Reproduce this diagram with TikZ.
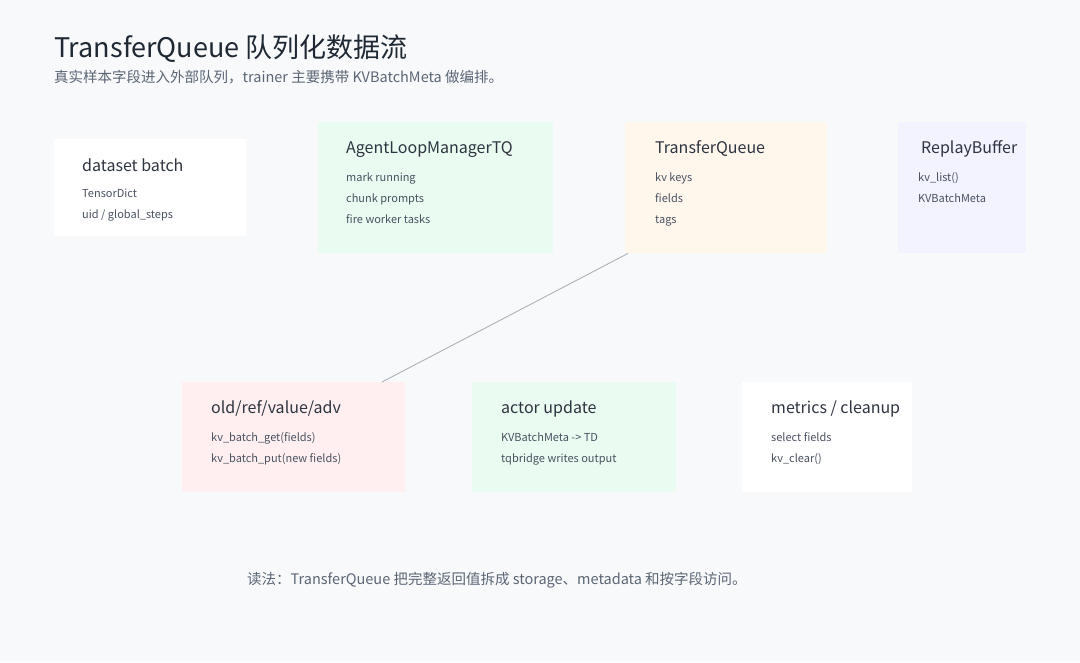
\documentclass[tikz,border=0pt]{standalone}
\usepackage{fontspec}
\setmainfont{Noto Sans CJK SC}
\usetikzlibrary{calc}
\definecolor{bg}{HTML}{F8F9FB}
\definecolor{ink}{HTML}{1F2933}
\definecolor{sub}{HTML}{5B6675}
\definecolor{boxttl}{HTML}{2E3440}
\definecolor{boxitm}{HTML}{4A5260}
\definecolor{mint}{HTML}{EAFBF1}
\definecolor{peach}{HTML}{FFF6EC}
\definecolor{lilac}{HTML}{F3F2FF}
\definecolor{rose}{HTML}{FFEFF0}
\definecolor{wire}{HTML}{AEB2B8}

\begin{document}
\begin{tikzpicture}[x=1pt, y=-1pt,
  card/.style={anchor=north west, inner sep=0pt, draw=none},
  ttl/.style={anchor=base west, inner sep=0pt, text=boxttl, font=\fontsize{16}{20}\selectfont},
  itm/.style={anchor=base west, inner sep=0pt, text=boxitm, font=\fontsize{11}{13}\selectfont},
  link/.style={draw=wire, line width=0.9pt}]
  \fill[bg] (0,0) rectangle (1080,662);
  \useasboundingbox (0,0) rectangle (1080,662);

  % heading
  \node[anchor=base west, inner sep=0pt, text=ink, font=\fontsize{27}{32}\selectfont] (title) at (54,57) {TransferQueue 队列化数据流};
  \node[anchor=base west, inner sep=0pt, text=sub, font=\fontsize{14.5}{18}\selectfont] (subtitle) at (54,82) {真实样本字段进入外部队列，trainer 主要携带 KVBatchMeta 做编排。};

  % upper row
  \node[card, fill=white, minimum width=192pt, minimum height=97pt] (ds) at (54,139) {};
  \node[card, fill=mint, minimum width=235pt, minimum height=131pt] (alm) at (318,122) {};
  \node[card, fill=peach, minimum width=202pt, minimum height=131pt] (tq) at (625,122) {};
  \node[card, fill=lilac, minimum width=128pt, minimum height=131pt] (rb) at (898,122) {};

  % lower row
  \node[card, fill=rose, minimum width=223pt, minimum height=110pt] (old) at (182,382) {};
  \node[card, fill=mint, minimum width=204pt, minimum height=110pt] (act) at (472,382) {};
  \node[card, fill=white, minimum width=170pt, minimum height=110pt] (met) at (742,382) {};

  % card texts
  \node[ttl] (dsT) at ([shift={(28,32)}]ds.north west) {dataset batch};
  \node[itm] (ds1) at ([shift={(28,58)}]ds.north west) {TensorDict};
  \node[itm] (ds2) at ([shift={(28,79)}]ds.north west) {uid / global\_steps};

  \node[ttl] (almT) at ([shift={(28,31)}]alm.north west) {AgentLoopManagerTQ};
  \node[itm] (alm1) at ([shift={(28,59)}]alm.north west) {mark running};
  \node[itm] (alm2) at ([shift={(28,80)}]alm.north west) {chunk prompts};
  \node[itm] (alm3) at ([shift={(28,101)}]alm.north west) {fire worker tasks};

  \node[ttl] (tqT) at ([shift={(30,31)}]tq.north west) {TransferQueue};
  \node[itm] (tq1) at ([shift={(30,59)}]tq.north west) {kv keys};
  \node[itm] (tq2) at ([shift={(30,80)}]tq.north west) {fields};
  \node[itm] (tq3) at ([shift={(30,101)}]tq.north west) {tags};

  \node[ttl] (rbT) at ([shift={(23,31)}]rb.north west) {ReplayBuffer};
  \node[itm] (rb1) at ([shift={(20,59)}]rb.north west) {kv\_list()};
  \node[itm] (rb2) at ([shift={(20,80)}]rb.north west) {KVBatchMeta};

  \node[ttl] (oldT) at ([shift={(29,31)}]old.north west) {old/ref/value/adv};
  \node[itm] (old1) at ([shift={(29,59)}]old.north west) {kv\_batch\_get(fields)};
  \node[itm] (old2) at ([shift={(29,80)}]old.north west) {kv\_batch\_put(new fields)};

  \node[ttl] (actT) at ([shift={(29,31)}]act.north west) {actor update};
  \node[itm] (act1) at ([shift={(29,59)}]act.north west) {KVBatchMeta -{}> TD};
  \node[itm] (act2) at ([shift={(29,80)}]act.north west) {tqbridge writes output};

  \node[ttl] (metT) at ([shift={(29,31)}]met.north west) {metrics / cleanup};
  \node[itm] (met1) at ([shift={(29,59)}]met.north west) {select fields};
  \node[itm] (met2) at ([shift={(29,80)}]met.north west) {kv\_clear()};

  % connector
  \draw[link] ([xshift=3pt]tq.south west) -- ([xshift=200pt]old.north west);

  % footnote
  \node[anchor=base west, inner sep=0pt, text=sub, font=\fontsize{14.5}{18}\selectfont] (note) at (247,584) {读法：TransferQueue 把完整返回值拆成 storage、metadata 和按字段访问。};
\end{tikzpicture}
\end{document}
